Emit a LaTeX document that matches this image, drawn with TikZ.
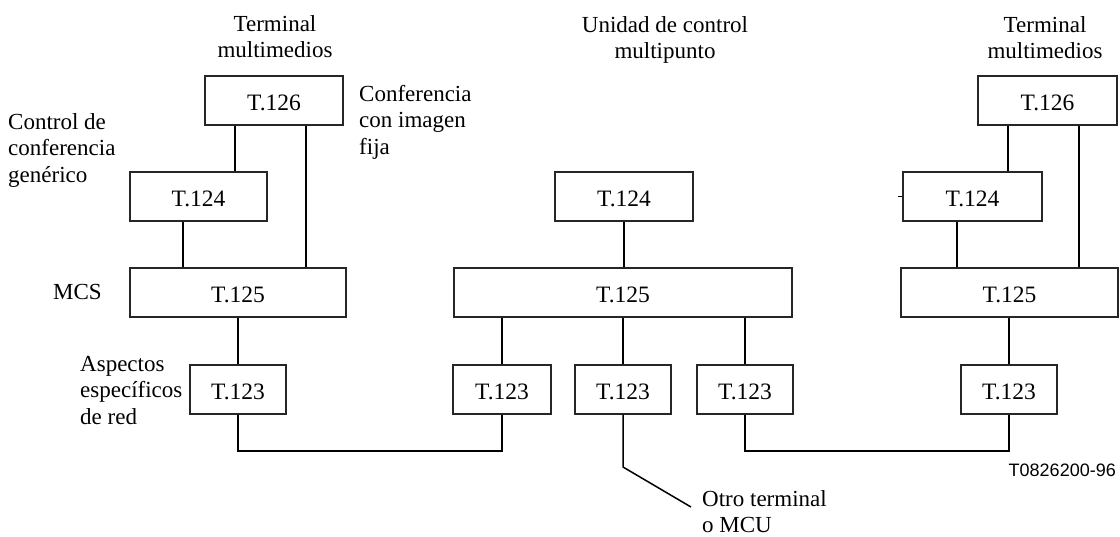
\documentclass[tikz,border=0pt]{standalone}
\usepackage{fontspec}
\setmainfont{Liberation Serif}
\newfontfamily\labsans{Liberation Sans}
\begin{document}
\begin{tikzpicture}[x=1pt,y=-1pt,
  box/.style={draw=black!85,line width=1.1pt,rectangle,inner sep=0pt,minimum height=49pt,text height=20pt,text depth=0pt,font=\fontsize{23.5}{26.5}\selectfont},
  wire/.style={line width=1.7pt,line join=miter},
  lab/.style={inner sep=0pt,font=\fontsize{23}{26.5}\selectfont},
]
\useasboundingbox (0,0) rectangle (1120,536);

% left terminal
\node[box,minimum width=138pt] (L126) at (274,100.5) {T.126};
\node[box,minimum width=137pt] (L124) at (198.5,196.5) {T.124};
\node[box,minimum width=216pt] (L125) at (238,292.5) {T.125};
\node[box,minimum width=96pt]  (L123) at (238,389.5) {T.123};

% MCU
\node[box,minimum width=138pt] (M124) at (624,196.5) {T.124};
\node[box,minimum width=338pt] (M125) at (623,292.5) {T.125};
\node[box,minimum width=98pt]  (M123a) at (502,389.5) {T.123};
\node[box,minimum width=96pt]  (M123b) at (623,389.5) {T.123};
\node[box,minimum width=96pt]  (M123c) at (745,389.5) {T.123};

% right terminal
\node[box,minimum width=139pt] (R126) at (1047.5,100.5) {T.126};
\node[box,minimum width=139pt] (R124) at (972.5,196.5) {T.124};
\node[box,minimum width=217pt] (R125) at (1009.5,292.5) {T.125};
\node[box,minimum width=96pt]  (R123) at (1009,389.5) {T.123};

% labels
\node[lab,anchor=base] (tl) at (275,31) {\begin{tabular}[t]{@{}c@{}}Terminal\\multimedios\end{tabular}};
\node[lab,anchor=base] (tm) at (665,32) {\begin{tabular}[t]{@{}c@{}}Unidad de control\\multipunto\end{tabular}};
\node[lab,anchor=base] (tr) at (1045,32) {\begin{tabular}[t]{@{}c@{}}Terminal\\multimedios\end{tabular}};
\node[lab,anchor=base west] (cif) at (359,101) {\begin{tabular}[t]{@{}l@{}}Conferencia\\con imagen\\fija\end{tabular}};
\node[lab,anchor=base west] (ccg) at (8,129) {\begin{tabular}[t]{@{}l@{}}Control de\\conferencia\\genérico\end{tabular}};
\node[lab,anchor=base west] (mcs) at (53,299) {MCS};
\node[lab,anchor=base west] (aer) at (80,371) {\begin{tabular}[t]{@{}l@{}}Aspectos\\específicos\\de red\end{tabular}};
\node[lab,anchor=base west] (otro) at (702,506) {\begin{tabular}[t]{@{}l@{}}Otro terminal\\o MCU\end{tabular}};
\node[inner sep=0pt,anchor=base east,font=\labsans\fontsize{18}{20}\selectfont] (code) at (1116,476) {T0826200-96};

\coordinate (oth) at (691,507);

% left connectors
\draw[wire] (L126.south -| 235,0) -- (L124.north -| 235,0);
\draw[wire] (L126.south -| 306,0) -- (L125.north -| 306,0);
\draw[wire] (L124.south -| 183,0) -- (L125.north -| 183,0);
\draw[wire] (L125.south -| L123.north) -- (L123.north);

% MCU connectors
\draw[wire] (M124.south) -- (M125.north -| M124.south);
\draw[wire] (M125.south -| M123a.north) -- (M123a.north);
\draw[wire] (M125.south -| M123b.north) -- (M123b.north);
\draw[wire] (M125.south -| M123c.north) -- (M123c.north);

% right connectors
\draw[wire] (R126.south -| 1008,0) -- (R124.north -| 1008,0);
\draw[wire] (R126.south -| 1079,0) -- (R125.north -| 1079,0);
\draw[wire] (R124.south -| 957,0) -- (R125.north -| 957,0);
\draw[wire] (R125.south -| R123.north) -- (R123.north);
\draw[line width=0.8pt] (R124.west) -- ++(-4,0);

% network links
\draw[wire] (L123.south) -- (L123.south |- 0,451) -| (M123a.south);
\draw[wire] (M123c.south) -- (M123c.south |- 0,451) -| (R123.south);
\draw[line width=1.5pt] (M123b.south) -- (M123b.south |- 0,467) -- (oth);
\end{tikzpicture}
\end{document}
